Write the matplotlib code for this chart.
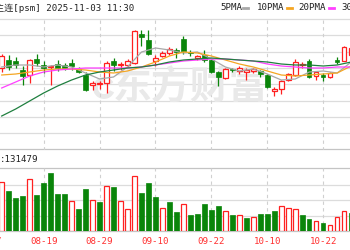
import numpy as np
import matplotlib
matplotlib.use('Agg')
import matplotlib.pyplot as plt
from matplotlib.lines import Line2D
from matplotlib.patches import Arc
from matplotlib.transforms import blended_transform_factory

plt.rcParams['font.family'] = ['DejaVu Sans Mono', 'Noto Sans CJK SC']

# daily bars, 08-11 .. 10-29 (price units)
opens = [6732, 6740, 6738.5, 6730, 6725, 6740.5, 6735, 6732.5, 6736, 6735,
         6737, 6731, 6725, 6715, 6715.5, 6717, 6738.5, 6734.5, 6734.5, 6737,
         6766, 6760, 6738.5, 6743.5, 6747, 6750, 6761, 6748, 6742, 6745,
         6740, 6727.5, 6722, 6730.5, 6728.5, 6728, 6728.5, 6728.5, 6725, 6709,
         6711, 6720, 6725, 6734.5, 6739, 6723.5, 6724.5, 6722.5, 6739.5, 6739,
         6745]
highs = [6746, 6745, 6742.5, 6733.5, 6741, 6745.5, 6738.5, 6735, 6740, 6737,
         6741, 6733, 6728, 6718.5, 6718.5, 6738.5, 6741.5, 6738, 6741, 6769.5,
         6769.5, 6770, 6745, 6749, 6753, 6752, 6763.5, 6750, 6745, 6750,
         6741, 6729, 6731.5, 6732, 6734, 6731.5, 6732, 6730, 6726, 6712.5,
         6720, 6726.5, 6741, 6737.5, 6740.5, 6729, 6726.5, 6727.5, 6742.5, 6753.5,
         6753]
lows = [6728, 6730, 6732, 6715, 6717, 6733.5, 6727, 6715, 6729, 6730,
        6730, 6727, 6709, 6709.5, 6711, 6707, 6729, 6730, 6733, 6736,
        6753.5, 6744.5, 6734, 6742.5, 6745, 6742, 6745.5, 6744, 6740, 6737.5,
        6727, 6714, 6721, 6727.5, 6726, 6720, 6727, 6723, 6711.5, 6703.5,
        6706, 6719, 6724, 6732, 6722, 6720, 6719, 6721.5, 6735.5, 6738.5,
        6742]
closes = [6744, 6733, 6734.5, 6723.5, 6740, 6736.5, 6732, 6733.5, 6732, 6732,
          6734, 6728, 6710, 6717, 6717, 6737, 6734.5, 6736, 6739, 6769,
          6762.5, 6746, 6741.5, 6747, 6751, 6747.5, 6749, 6746.5, 6743.5, 6739.5,
          6727.5, 6723, 6730.5, 6729.5, 6732, 6730, 6730.5, 6725.5, 6712.5, 6711,
          6719, 6725.5, 6738, 6736, 6722.5, 6727.5, 6723, 6726.5, 6737.5, 6752.5,
          6752]
volume = [146, 120, 98, 105, 155, 107, 144, 174, 112, 112,
          90, 66, 126, 92, 88, 134, 132, 90, 65, 166,
          114, 144, 102, 69, 87, 57, 80, 48, 50, 82,
          63, 74, 59, 47, 49, 39, 41, 50, 50, 60,
          74, 68, 65, 47, 36, 29, 25, 19, 41, 60,
          53]  # thousand lots
vol_up = 'rgggrggggg' 'rggrgrgrrr' 'gggrggrggg' 'ggrgrgrggg' 'rrrggrgrrr' 'g'

# moving averages, read at every second bar
ma_idx = list(range(0, 51, 2))
ma5 = [6733, 6735, 6735, 6733, 6735, 6733, 6727, 6721, 6723, 6733, 6748, 6752, 6750,
       6747, 6748, 6741, 6733, 6729, 6731, 6726, 6720, 6721, 6728, 6729, 6727, 6738]
ma10 = [6725, 6726, 6728, 6730, 6731, 6731, 6730, 6728, 6727, 6729, 6733, 6738, 6744,
        6748, 6747, 6744, 6740, 6736, 6733, 6729, 6725, 6724, 6725, 6726, 6727, 6734]
ma20 = [6712, 6718, 6724, 6728, 6730, 6731, 6732, 6732, 6732, 6732, 6733, 6735, 6737,
        6739, 6740, 6741, 6741, 6740, 6739, 6736, 6734, 6733, 6732, 6732, 6733, 6733]
ma30 = [6684, 6691, 6699, 6707, 6714, 6720, 6725, 6728, 6730, 6732, 6733, 6735, 6738,
        6740, 6741, 6742, 6741, 6740, 6739, 6738, 6736, 6735, 6735, 6734, 6735, 6738]

date_idx = [-2, 6, 14, 22, 30, 38, 46]
date_lbl = ['08-07', '08-19', '08-29', '09-10', '09-22', '10-10', '10-22']

RED = '#ff2020'
GRN = '#0a850a'
W, H = 350., 250.
step = 6.99   # px per bar
x0 = 1.7      # px of first bar
fs = 6.6

fig = plt.figure(figsize=(3.5, 2.5), dpi=100)
fig.patch.set_facecolor('white')
ax = fig.add_axes([0, (H - 149.5) / H, 1, 130.5 / H])
axv = fig.add_axes([0, (H - 231) / H, 1, 62.7 / H])
xl = (-x0 / step, (W - x0) / step)
for a in (ax, axv):
    a.set_xlim(*xl)
    a.axis('off')
ax.set_ylim(6650.5, 6781)
axv.set_ylim(0, 188.1)

# grid
for k, g in enumerate(np.linspace(6650.5, 6781, 9)):
    c = '#c4c4c4' if k == 0 else '#dcdcdc'
    ax.axhline(g, color=c, lw=0.9, clip_on=False, zorder=0)
for g in [46, 92, 138]:
    axv.axhline(g, color='#dcdcdc', lw=0.9, zorder=0)
axv.axhline(188.1, color='#c4c4c4', lw=0.9, clip_on=False, zorder=0)
axv.axhline(0, color='#c4c4c4', lw=0.9, clip_on=False, zorder=0)
for d in date_idx:
    ax.axvline(d, color='#d0d0d0', lw=0.8, ls=(0, (3, 3)), zorder=0)
    axv.axvline(d, color='#d0d0d0', lw=0.8, ls=(0, (3, 3)), zorder=0)

# watermark
ax.text(27.0, 6712, '东方财富', fontsize=28, fontweight='bold', color='#e9e9e9',
        ha='center', va='center', zorder=0, family=['Noto Sans CJK SC'])
fig.add_artist(Arc((104 / W, 1 - 88 / H), 17 / W, 17 / H, theta1=40, theta2=330,
                   color='#e9e9e9', lw=3.5, transform=fig.transFigure, zorder=0))

# candles
bw = 0.64
for i in range(len(opens)):
    o, h, l, c = opens[i], highs[i], lows[i], closes[i]
    col = RED if c >= o else GRN
    ax.vlines(i, l, h, color=col, lw=0.9, zorder=2)
    lo, hi = min(o, c), max(o, c)
    if hi - lo < 0.6:
        hi = lo + 0.6
    if c >= o:
        ax.bar(i, hi - lo, bw, lo, facecolor='white', edgecolor=col, lw=0.9, zorder=3)
    else:
        ax.bar(i, hi - lo, bw, lo, facecolor=col, edgecolor=col, lw=0.5, zorder=3)

ax.plot(ma_idx, ma5, color='#a8a8a8', lw=0.9, zorder=4)
ax.plot(ma_idx, ma10, color='#f5a623', lw=0.9, zorder=4)
ax.plot(ma_idx, ma20, color='#ff40ff', lw=0.9, zorder=4)
ax.plot(ma_idx, ma30, color='#1f7f3f', lw=0.9, zorder=4)

# volume
for i, v in enumerate(volume):
    if vol_up[i] == 'r':
        axv.bar(i, v, bw, 0, facecolor='white', edgecolor=RED, lw=0.9, zorder=2)
    else:
        axv.bar(i, v, bw, 0, facecolor=GRN, edgecolor=GRN, lw=0.5, zorder=2)

# texts
fig.text(-5 / W, 1 - 8 / H, '主连[psm] 2025-11-03 11:30', fontsize=fs,
         color='#222222', va='center', ha='left')
fig.text(-0.5 / W, 1 - 159 / H, ':131479', fontsize=fs, color='#222222',
         va='center', ha='left')
leg = [('5PMA', 220, 243, '#a8a8a8'), ('10PMA', 257, 287, '#f5a623'),
       ('20PMA', 298, 329, '#ff40ff'), ('30PMA', 341, None, None)]
for lbl, tx, dx, col in leg:
    fig.text(tx / W, 1 - 8 / H, lbl, fontsize=fs, color='#222222', va='center', ha='left')
    if dx is not None:
        fig.add_artist(Line2D([dx / W, (dx + 5) / W], [1 - 8 / H, 1 - 8 / H],
                              color=col, lw=2, transform=fig.transFigure))

tr = blended_transform_factory(axv.transData, fig.transFigure)
for d, s in zip(date_idx, date_lbl):
    axv.text(d, 1 - 241 / H, s, transform=tr, fontsize=fs, color='#ff3030',
             ha='center', va='center', clip_on=False)

fig.savefig('out.png', dpi=100, facecolor='white')
